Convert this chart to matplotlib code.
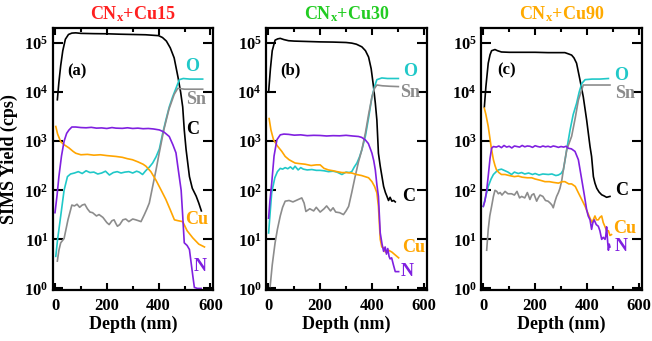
import matplotlib
matplotlib.use("Agg")
from matplotlib import pyplot as plt
from matplotlib.ticker import FixedLocator, FixedFormatter, NullFormatter

plt.rcParams['font.family'] = 'Liberation Serif'
plt.rcParams['font.weight'] = 'bold'
plt.rcParams['mathtext.fontset'] = 'custom'
plt.rcParams['mathtext.rm'] = 'Liberation Serif:bold'
plt.rcParams['mathtext.bf'] = 'Liberation Serif:bold'
plt.rcParams['mathtext.it'] = 'Liberation Serif:bold'

# ---- panel (a) CNx+Cu15 ----
a_C_x = [9, 15, 22, 30, 40, 52, 65, 80, 100, 150, 200, 250, 300, 350, 400, 415, 430, 445, 460, 475, 485, 493, 499, 506, 519, 530, 545, 555, 565]
a_C_y = [7e3, 1.6e4, 3.5e4, 7e4, 1.2e5, 1.5e5, 1.6e5, 1.62e5, 1.58e5, 1.56e5, 1.55e5, 1.52e5, 1.5e5, 1.48e5, 1.42e5, 1.3e5, 1.1e5, 8e4, 5e4, 2e4, 1e4, 5e3, 1.7e3, 680, 190, 110, 76, 55, 38]
a_O_x = [3, 10, 22, 35, 48, 60, 75, 90, 105, 120, 135, 150, 165, 180, 195, 210, 225, 240, 255, 270, 285, 300, 315, 325, 338, 350, 365, 377, 390, 403, 415, 428, 441, 454, 467, 480, 495, 520, 545, 570]
a_O_y = [4.5, 10, 30, 100, 190, 215, 225, 240, 220, 250, 230, 235, 215, 225, 245, 205, 230, 240, 225, 235, 240, 225, 245, 235, 210, 250, 300, 360, 480, 700, 1400, 2700, 5000, 8000, 1.2e4, 1.8e4, 1.9e4, 1.85e4, 1.85e4, 1.85e4]
a_Sn_x = [9, 15, 22, 35, 50, 65, 75, 85, 95, 105, 115, 125, 135, 145, 160, 170, 185, 200, 209, 220, 228, 235, 241, 250, 262, 273, 285, 300, 312, 322, 332, 345, 355, 364, 377, 390, 403, 420, 440, 460, 474, 500, 540, 570]
a_Sn_y = [3.6, 6, 8.5, 10.4, 25, 50, 48, 52, 45, 50, 52, 42, 36, 35, 30, 32, 28, 22, 20, 24, 25, 21, 18.5, 20, 25, 26, 23, 26, 25, 24, 23, 32, 42, 55, 120, 260, 600, 1700, 4500, 9000, 1.2e4, 1.15e4, 1.15e4, 1.15e4]
a_Cu_x = [3, 10, 22, 35, 54, 70, 80, 100, 125, 150, 175, 200, 235, 260, 280, 299, 320, 340, 351, 370, 390, 410, 428, 445, 461, 475, 493, 510, 532, 555, 577]
a_Cu_y = [2000, 1400, 980, 850, 730, 620, 570, 530, 540, 520, 530, 510, 490, 470, 440, 420, 380, 340, 310, 240, 160, 100, 65, 40, 25, 24, 23, 15, 10.7, 8, 7]
a_N_x = [0, 8, 15, 25, 35, 45, 54, 65, 80, 100, 120, 140, 160, 180, 200, 220, 235, 260, 280, 300, 320, 340, 360, 380, 403, 420, 441, 455, 467, 474, 487, 493, 499, 510, 519, 532, 538, 550, 564]
a_N_y = [35, 80, 190, 500, 1000, 1450, 1700, 1950, 1950, 1900, 1880, 1920, 1850, 1870, 1820, 1900, 1850, 1830, 1880, 1820, 1850, 1800, 1820, 1780, 1700, 1550, 1250, 850, 580, 310, 100, 30, 8.5, 7.5, 6.2, 1.8, 1.05, 1, 1]

# ---- panel (b) CNx+Cu30 ----
b_C_x = [1, 8, 15, 26, 36, 46, 60, 78, 100, 150, 200, 250, 300, 322, 340, 361, 375, 387, 397, 406, 413, 419, 425, 432, 438, 445, 452, 458, 464, 470, 477, 484, 490]
b_C_y = [1e4, 3e4, 7e4, 1.15e5, 1.22e5, 1.25e5, 1.18e5, 1.12e5, 1.1e5, 1.08e5, 1.06e5, 1.05e5, 1.03e5, 1.0e5, 9.5e4, 8.4e4, 7e4, 5.2e4, 3e4, 1.3e4, 6e3, 2.7e3, 570, 310, 200, 120, 90, 75, 62, 72, 60, 62, 58]
b_O_x = [1, 6, 13, 25, 35, 46, 55, 65, 75, 85, 95, 103, 115, 125, 135, 150, 168, 185, 200, 215, 232, 250, 265, 284, 300, 312, 322, 332, 342, 352, 361, 375, 387, 400, 410, 419, 438, 460, 480, 502]
b_O_y = [13.5, 30, 90, 180, 240, 280, 270, 290, 275, 300, 270, 310, 260, 290, 270, 260, 265, 255, 255, 250, 240, 245, 235, 210, 235, 230, 240, 300, 360, 480, 670, 1300, 3000, 8000, 1.3e4, 1.8e4, 1.95e4, 1.9e4, 1.9e4, 1.9e4]
b_Sn_x = [7, 15, 26, 35, 46, 55, 65, 80, 95, 110, 129, 138, 145, 160, 175, 185, 200, 215, 225, 240, 250, 260, 275, 290, 300, 310, 322, 335, 348, 361, 375, 387, 400, 410, 419, 440, 470, 502]
b_Sn_y = [1.1, 3, 8.5, 16, 30, 45, 60, 62, 58, 63, 70, 55, 37, 42, 38, 45, 36, 42, 48, 38, 44, 36, 35, 32, 38, 47, 90, 190, 380, 670, 1500, 3500, 8000, 1.2e4, 1.4e4, 1.35e4, 1.32e4, 1.3e4]
b_Cu_x = [3, 10, 20, 35, 52, 65, 80, 103, 120, 142, 165, 185, 200, 215, 232, 250, 265, 284, 300, 322, 340, 360, 387, 400, 410, 419, 425, 432, 438, 445, 452, 464, 477, 490, 503]
b_Cu_y = [2900, 1700, 1070, 800, 620, 490, 420, 360, 350, 340, 320, 330, 330, 280, 260, 250, 240, 230, 230, 225, 210, 200, 180, 150, 120, 89, 47, 10, 7, 6.7, 5.5, 6, 5.5, 4.8, 4.2]
b_N_x = [1, 6, 13, 22, 33, 46, 60, 78, 100, 125, 150, 175, 200, 225, 250, 275, 300, 325, 348, 360, 374, 386, 393, 400, 407, 413, 419, 425, 432, 439, 445, 451, 456, 461, 466, 470, 476, 483, 490, 503]
b_N_y = [27, 60, 140, 500, 1070, 1350, 1400, 1380, 1330, 1350, 1300, 1320, 1310, 1280, 1300, 1290, 1320, 1280, 1250, 1200, 1070, 900, 720, 570, 400, 260, 130, 75, 13.5, 8, 5.7, 7, 5, 6.5, 4.5, 4, 4.2, 3, 2.2, 2.2]

# ---- panel (c) CNx+Cu90 ----
c_C_x = [4, 10, 19, 26, 32, 45, 55, 70, 100, 150, 200, 250, 300, 315, 330, 341, 350, 360, 373, 386, 399, 412, 418, 425, 431, 438, 447, 457, 466, 476, 489]
c_C_y = [5e3, 1.3e4, 3.9e4, 5.8e4, 7e4, 7.4e4, 7.0e4, 6.6e4, 6.5e4, 6.5e4, 6.5e4, 6.4e4, 6.4e4, 6.4e4, 6e4, 5.7e4, 5e4, 3.9e4, 1.8e4, 8e3, 2.7e3, 780, 490, 190, 140, 110, 92, 81, 77, 72, 75]
c_O_x = [0, 8, 19, 30, 39, 50, 58, 70, 84, 95, 109, 120, 135, 148, 160, 175, 190, 200, 215, 230, 251, 265, 280, 290, 300, 309, 315, 322, 335, 347, 360, 370, 380, 393, 420, 450, 483]
c_O_y = [47, 70, 120, 170, 210, 240, 260, 270, 250, 235, 210, 235, 220, 230, 215, 225, 210, 220, 205, 215, 210, 215, 200, 205, 220, 260, 400, 670, 1700, 3500, 5900, 1e4, 1.5e4, 1.8e4, 1.85e4, 1.85e4, 1.9e4]
c_Sn_x = [13, 19, 25, 32, 39, 45, 52, 58, 65, 72, 84, 95, 109, 120, 130, 140, 148, 160, 170, 180, 187, 195, 206, 212, 219, 230, 240, 250, 258, 265, 270, 277, 283, 290, 296, 303, 309, 322, 341, 355, 367, 386, 420, 460, 489]
c_Sn_y = [6, 16, 30, 47, 75, 100, 95, 85, 90, 80, 95, 85, 85, 80, 95, 70, 75, 70, 90, 65, 80, 85, 60, 70, 80, 75, 62, 60, 55, 50, 44, 60, 75, 90, 110, 160, 260, 670, 1260, 3000, 6900, 1.4e4, 1.4e4, 1.4e4, 1.4e4]
c_Cu_x = [4, 10, 19, 25, 30, 35, 39, 45, 51, 60, 70, 84, 100, 120, 135, 150, 170, 187, 200, 220, 238, 255, 270, 290, 305, 315, 330, 341, 355, 367, 380, 393, 403, 412, 420, 431, 437, 444, 450, 457, 463, 470, 476, 483, 489, 495]
c_Cu_y = [4700, 3500, 2000, 1200, 780, 550, 420, 320, 260, 230, 210, 210, 200, 190, 195, 185, 180, 180, 170, 160, 150, 150, 145, 140, 150, 150, 135, 135, 120, 89, 65, 47, 35, 27, 22, 30, 25, 25, 28, 30, 22, 18, 15, 15, 12, 12.5]
c_N_x = [0, 6, 13, 20, 26, 32, 39, 50, 60, 70, 80, 90, 100, 110, 120, 130, 140, 150, 160, 170, 180, 190, 200, 210, 220, 230, 240, 250, 260, 270, 280, 290, 300, 310, 320,
         328, 340, 354, 367, 380, 390, 399, 405, 412, 418, 423, 428, 436, 444, 450, 457, 463, 470, 473, 476, 480, 483, 486, 489]
c_N_y = [47, 60, 100, 220, 450, 720, 780, 760, 800, 740, 820, 760, 790, 730, 800, 780, 760, 820, 770, 800, 790, 750, 810, 780, 760, 800, 770, 790, 760, 800, 780, 750, 780, 760, 790,
         720, 700, 620, 420, 165, 80, 40, 30, 25, 16, 22, 25, 20, 18.5, 15, 10, 11, 10, 12, 18, 9, 6, 8, 7]

titles = ["CN$_x$+Cu15", "CN$_x$+Cu30", "CN$_x$+Cu90"]
title_colors = ["#ff2020", "#22cc22", "#ffaa00"]
panel_tags = ["(a)", "(b)", "(c)"]

species = ["C", "O", "Sn", "Cu", "N"]
colors = {"C": "black", "O": "#20c8c8", "Sn": "#8c8c8c", "Cu": "#ffa500", "N": "#8020e0"}

panels = [
    {"C": (a_C_x, a_C_y), "O": (a_O_x, a_O_y), "Sn": (a_Sn_x, a_Sn_y), "Cu": (a_Cu_x, a_Cu_y), "N": (a_N_x, a_N_y)},
    {"C": (b_C_x, b_C_y), "O": (b_O_x, b_O_y), "Sn": (b_Sn_x, b_Sn_y), "Cu": (b_Cu_x, b_Cu_y), "N": (b_N_x, b_N_y)},
    {"C": (c_C_x, c_C_y), "O": (c_O_x, c_O_y), "Sn": (c_Sn_x, c_Sn_y), "Cu": (c_Cu_x, c_Cu_y), "N": (c_N_x, c_N_y)},
]

# where the species names sit (depth, yield)
label_pos = [
    {"O": (530, 3.3e4), "Sn": (543, 7.2e3), "C": (532, 1.7e3), "Cu": (545, 25), "N": (562, 2.8)},
    {"O": (548, 2.6e4), "Sn": (548, 1.0e4), "C": (541, 75), "Cu": (561, 6.8), "N": (535, 2.2)},
    {"O": (534, 2.2e4), "Sn": (547, 9.5e3), "C": (534, 100), "Cu": (547, 17), "N": (534, 7.2)},
]
tag_pos = [(86, 2.6e4), (84, 2.8e4), (90, 2.8e4)]

fig = plt.figure(figsize=(6.52, 3.41), dpi=100)
lefts = [0.0808, 0.408, 0.7377]

for i in range(3):
    ax = fig.add_axes([lefts[i], 0.151, 0.2463, 0.768])
    for sp in species:
        x, y = panels[i][sp]
        ax.plot(x, y, color=colors[sp], lw=1.2)
        lx, ly = label_pos[i][sp]
        ax.text(lx, ly, sp, color=colors[sp], fontsize=13, fontweight='bold',
                ha='center', va='center')
    ax.text(tag_pos[i][0], tag_pos[i][1], panel_tags[i], fontsize=12,
            fontweight='bold', ha='center', va='center')

    ax.set_yscale('log')
    ax.set_xlim(-9, 611)
    ax.set_ylim(0.95, 2.07e5)

    ax.yaxis.set_major_locator(FixedLocator([1, 10, 100, 1e3, 1e4, 1e5]))
    ax.yaxis.set_major_formatter(FixedFormatter([r"$\mathbf{10^{%d}}$" % k for k in range(6)]))
    ax.yaxis.set_minor_locator(FixedLocator([]))
    ax.yaxis.set_minor_formatter(NullFormatter())
    ax.xaxis.set_major_locator(FixedLocator([0, 200, 400, 600]))
    ax.xaxis.set_minor_locator(FixedLocator([100, 300, 500]))

    ax.tick_params(axis='both', which='both', direction='in', top=True, right=True,
                   width=1.5, labelsize=12)
    ax.tick_params(axis='y', which='major', length=7.5, pad=3)
    ax.tick_params(axis='x', which='major', length=5, pad=6)
    ax.tick_params(axis='x', which='minor', length=3)
    for s in ax.spines.values():
        s.set_linewidth(1.6)

    ax.set_xlabel("Depth (nm)", fontsize=13, fontweight='bold', labelpad=1)
    ax.set_title(titles[i], color=title_colors[i], fontsize=13, fontweight='bold', pad=6)

fig.text(0.014, 0.535, "SIMS Yield (cps)", rotation=90, fontsize=13,
         fontweight='bold', ha='center', va='center')

fig.savefig("out.png", dpi=100)
